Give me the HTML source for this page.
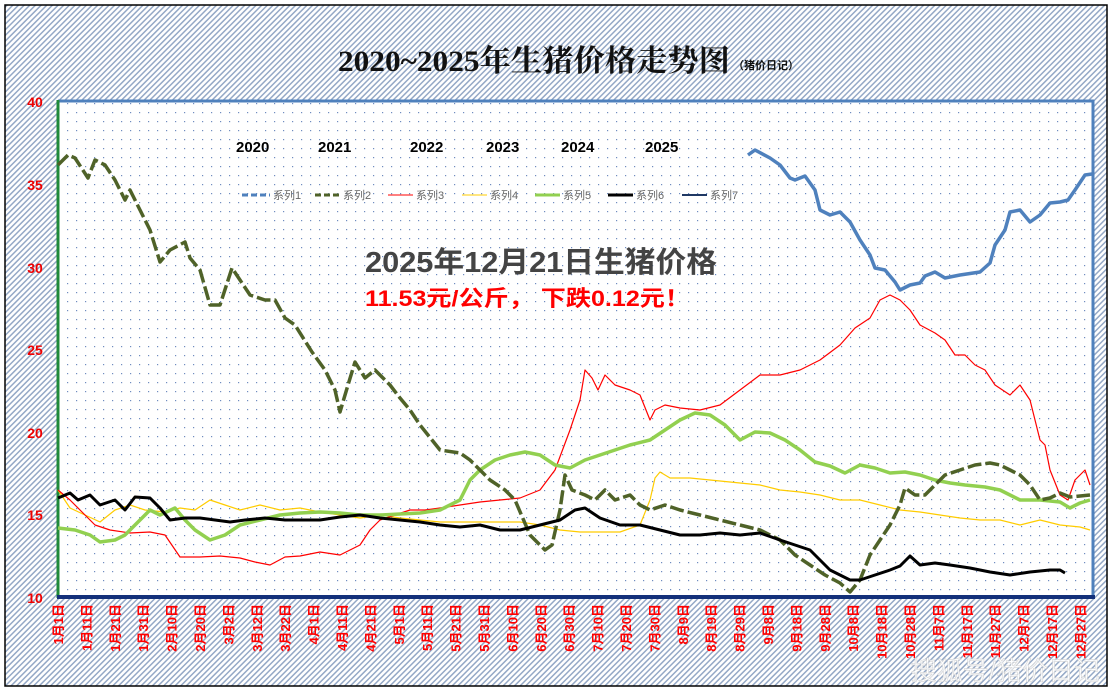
<!DOCTYPE html>
<html><head><meta charset="utf-8"><style>
body{margin:0;width:1113px;height:690px;overflow:hidden;background:#fff}
</style></head><body>
<svg width="1113" height="690" xmlns="http://www.w3.org/2000/svg" font-family="Liberation Sans, Noto Sans CJK SC, sans-serif">
<defs>
<pattern id="hatch" width="4" height="4" patternUnits="userSpaceOnUse" patternTransform="rotate(45)">
<rect width="4" height="4" fill="#fff"/><rect width="1.5" height="4" fill="#94a8c6"/>
</pattern>
<pattern id="dots" width="9" height="9" patternUnits="userSpaceOnUse">
<rect width="9" height="9" fill="#fff"/><rect x="4" y="4" width="1.2" height="1.2" fill="#6f8cc0"/>
</pattern>
</defs>
<rect x="0" y="0" width="1113" height="690" fill="#fff"/>
<rect x="5" y="5" width="1102" height="681" fill="url(#hatch)" stroke="#000" stroke-width="1.5"/>
<rect x="58" y="101" width="1035" height="496" fill="url(#dots)"/>
<line x1="58" y1="101" x2="1094" y2="101" stroke="#4f81bd" stroke-width="3"/>
<line x1="1093" y1="100" x2="1093" y2="598" stroke="#4f81bd" stroke-width="3"/>
<line x1="58" y1="100" x2="58" y2="598" stroke="#1f8a3a" stroke-width="3"/>
<line x1="57" y1="597" x2="1095" y2="597" stroke="#13307a" stroke-width="4"/>
<text x="338" y="71" font-family="Liberation Serif, Noto Serif CJK SC, serif" font-weight="bold" font-size="30" textLength="392" lengthAdjust="spacingAndGlyphs" fill="#111">2020~2025年生猪价格走势图</text>
<text x="733" y="69" font-size="11" font-weight="bold" fill="#111">（猪价日记）</text>
<g fill="#e00" font-size="14" font-weight="bold" text-anchor="middle">
<text x="35" y="107">40</text><text x="35" y="190">35</text><text x="35" y="273">30</text><text x="35" y="355">25</text><text x="35" y="438">20</text><text x="35" y="520">15</text><text x="35" y="603">10</text>
</g>
<g font-size="15" font-weight="bold" fill="#000">
<text x="236" y="152">2020</text><text x="318" y="152">2021</text><text x="410" y="152">2022</text><text x="486" y="152">2023</text><text x="561" y="152">2024</text><text x="645" y="152">2025</text>
</g>
<g font-size="11" fill="#666">
<line x1="242" y1="195" x2="270" y2="195" stroke="#4f81bd" stroke-width="3" stroke-dasharray="6,3"/><text x="273" y="199">系列1</text>
<line x1="315" y1="195" x2="340" y2="195" stroke="#4f6228" stroke-width="3" stroke-dasharray="6,3"/><text x="343" y="199">系列2</text>
<line x1="388" y1="195" x2="413" y2="195" stroke="#f00" stroke-width="1"/><text x="416" y="199">系列3</text>
<line x1="462" y1="195" x2="487" y2="195" stroke="#fc0" stroke-width="1"/><text x="490" y="199">系列4</text>
<line x1="535" y1="195" x2="560" y2="195" stroke="#92d050" stroke-width="3"/><text x="563" y="199">系列5</text>
<line x1="608" y1="195" x2="633" y2="195" stroke="#000" stroke-width="3"/><text x="636" y="199">系列6</text>
<line x1="682" y1="195" x2="707" y2="195" stroke="#1f3864" stroke-width="2"/><text x="710" y="199">系列7</text>
</g>
<g fill="none" stroke-linejoin="round">
<polyline stroke="#fc0" stroke-width="1.2" points="58,490 70,508 85,515 100,522 115,510 130,505 145,510 165,512 180,508 195,510 210,500 225,505 240,510 260,505 280,510 300,508 320,512 340,515 360,518 380,515 400,518 420,520 440,522 460,522 480,522 500,522 520,522 540,525 560,530 580,532 600,532 620,532 640,525 650,500 655,478 660,472 670,478 690,478 710,480 730,482 760,485 780,490 800,492 820,495 840,500 860,500 880,505 900,510 920,512 940,515 960,518 980,520 1000,520 1020,525 1040,520 1060,525 1080,527 1090,530"/>
<polyline stroke="#f00" stroke-width="1.2" points="58,490 70,500 80,510 95,525 110,530 130,533 150,532 165,535 180,557 200,557 220,556 240,558 255,562 270,565 285,557 300,556 320,552 340,555 360,545 370,530 380,520 395,515 410,510 425,510 440,508 460,505 480,502 500,500 520,498 540,490 555,470 570,430 580,400 585,370 592,378 598,390 605,375 615,385 630,390 640,395 650,420 655,410 665,405 680,408 700,410 720,405 740,390 760,375 780,375 800,370 820,360 840,345 855,328 870,318 880,300 890,295 900,300 910,310 920,325 935,333 945,340 955,355 965,355 975,365 985,370 995,385 1010,395 1020,385 1030,400 1040,440 1045,445 1050,470 1060,495 1068,500 1075,480 1085,470 1090,485"/>
<polyline stroke="#92d050" stroke-width="3.5" points="58,528 75,530 90,535 100,542 115,540 125,535 140,520 150,510 160,515 175,508 185,520 195,530 210,540 225,535 240,525 260,520 280,515 300,513 320,512 340,513 360,515 380,515 400,514 420,513 440,510 460,500 470,480 480,470 495,460 510,455 525,452 540,455 555,465 570,468 585,460 600,455 615,450 630,445 650,440 665,430 680,420 695,413 710,415 725,425 740,440 755,432 770,433 785,440 800,450 815,462 830,466 845,473 860,465 875,468 890,473 905,472 920,475 935,480 950,483 965,485 985,487 1000,490 1020,500 1040,500 1060,502 1070,508 1080,503 1090,500"/>
<polyline stroke="#4f6228" stroke-width="3.5" stroke-dasharray="14,4" points="58,165 68,155 75,158 88,178 95,160 105,165 115,180 125,200 130,190 140,210 150,230 160,262 170,250 185,242 190,258 200,270 210,305 220,305 232,268 240,280 250,295 265,300 275,300 285,318 295,325 312,352 325,370 335,390 340,412 348,385 355,362 365,378 375,370 390,385 400,398 410,410 420,425 432,440 440,450 460,453 470,460 480,470 490,480 505,490 515,500 530,535 545,550 552,545 560,510 565,475 572,490 585,495 595,500 605,490 615,500 630,495 640,505 650,510 665,505 680,510 700,515 720,520 740,525 760,530 780,540 795,555 810,565 825,575 840,583 850,592 860,580 870,555 880,540 890,525 900,505 905,488 915,495 925,495 935,485 945,475 960,470 975,465 990,463 1000,465 1010,470 1020,475 1030,485 1040,500 1050,498 1060,493 1070,497 1090,495"/>
<polyline stroke="#000" stroke-width="3" points="58,498 70,493 78,500 90,495 100,505 115,500 125,510 135,497 150,498 160,508 170,520 185,518 200,518 215,520 230,522 245,520 265,518 285,520 300,520 320,520 340,517 360,515 380,518 400,520 420,522 440,525 460,527 480,525 500,530 520,530 540,525 560,520 575,510 585,508 600,518 620,525 640,525 660,530 680,535 700,535 720,533 740,535 760,533 780,540 795,545 810,550 830,570 850,580 860,580 875,575 890,570 900,566 910,556 920,565 935,563 950,565 970,568 990,572 1010,575 1030,572 1050,570 1060,570 1065,573"/>
<polyline stroke="#4f81bd" stroke-width="3.5" points="748,155 755,150 770,158 780,165 790,178 795,180 805,176 815,190 820,210 830,215 840,212 850,222 860,240 870,255 875,268 885,270 895,282 900,290 910,285 920,283 925,276 935,272 945,278 960,275 980,272 990,263 995,245 1005,230 1010,212 1020,210 1030,222 1040,215 1050,203 1060,202 1068,200 1075,190 1085,175 1092,174"/>
</g>
<text x="365" y="272" font-size="29" font-weight="bold" fill="#444" textLength="352" lengthAdjust="spacingAndGlyphs">2025年12月21日生猪价格</text>
<text x="365" y="306" font-size="22" font-weight="bold" fill="#f00" textLength="325" lengthAdjust="spacingAndGlyphs">11.53元/公斤，  下跌0.12元！</text>
<g fill="#f00" font-size="13" font-weight="bold" text-anchor="end">
<text transform="translate(63.0,604) rotate(-90)">1月1日</text>
<text transform="translate(91.4,604) rotate(-90)">1月11日</text>
<text transform="translate(119.8,604) rotate(-90)">1月21日</text>
<text transform="translate(148.2,604) rotate(-90)">1月31日</text>
<text transform="translate(176.6,604) rotate(-90)">2月10日</text>
<text transform="translate(205.0,604) rotate(-90)">2月20日</text>
<text transform="translate(233.4,604) rotate(-90)">3月2日</text>
<text transform="translate(261.8,604) rotate(-90)">3月12日</text>
<text transform="translate(290.2,604) rotate(-90)">3月22日</text>
<text transform="translate(318.6,604) rotate(-90)">4月1日</text>
<text transform="translate(347.0,604) rotate(-90)">4月11日</text>
<text transform="translate(375.4,604) rotate(-90)">4月21日</text>
<text transform="translate(403.8,604) rotate(-90)">5月1日</text>
<text transform="translate(432.2,604) rotate(-90)">5月11日</text>
<text transform="translate(460.6,604) rotate(-90)">5月21日</text>
<text transform="translate(489.0,604) rotate(-90)">5月31日</text>
<text transform="translate(517.4,604) rotate(-90)">6月10日</text>
<text transform="translate(545.8,604) rotate(-90)">6月20日</text>
<text transform="translate(574.2,604) rotate(-90)">6月30日</text>
<text transform="translate(602.6,604) rotate(-90)">7月10日</text>
<text transform="translate(631.0,604) rotate(-90)">7月20日</text>
<text transform="translate(659.4,604) rotate(-90)">7月30日</text>
<text transform="translate(687.8,604) rotate(-90)">8月9日</text>
<text transform="translate(716.2,604) rotate(-90)">8月19日</text>
<text transform="translate(744.6,604) rotate(-90)">8月29日</text>
<text transform="translate(773.0,604) rotate(-90)">9月8日</text>
<text transform="translate(801.4,604) rotate(-90)">9月18日</text>
<text transform="translate(829.8,604) rotate(-90)">9月28日</text>
<text transform="translate(858.2,604) rotate(-90)">10月8日</text>
<text transform="translate(886.6,604) rotate(-90)">10月18日</text>
<text transform="translate(915.0,604) rotate(-90)">10月28日</text>
<text transform="translate(943.4,604) rotate(-90)">11月7日</text>
<text transform="translate(971.8,604) rotate(-90)">11月17日</text>
<text transform="translate(1000.2,604) rotate(-90)">11月27日</text>
<text transform="translate(1028.6,604) rotate(-90)">12月7日</text>
<text transform="translate(1057.0,604) rotate(-90)">12月17日</text>
<text transform="translate(1085.4,604) rotate(-90)">12月27日</text>
</g>
<text x="1100" y="680" font-size="26" text-anchor="end" fill="#fff" fill-opacity="0.8" stroke="#ccc" stroke-width="0.5">搜狐号/猪价日记</text>
</svg>
</body></html>
